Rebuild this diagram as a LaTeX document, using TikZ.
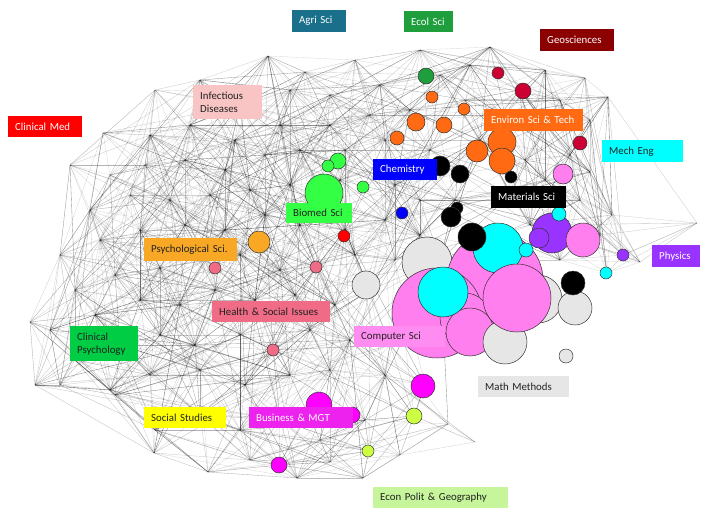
\documentclass[tikz,border=0pt]{standalone}
\usepackage{fontspec}
\usepackage{xcolor}
\setmainfont{Carlito}

\definecolor{agric}{HTML}{1A6F8A}
\definecolor{ecolc}{HTML}{1F9E3E}
\definecolor{geolab}{HTML}{8B0000}
\definecolor{geoc}{HTML}{CC0033}
\definecolor{cmedc}{HTML}{FF0000}
\definecolor{infc}{HTML}{F9C4C4}
\definecolor{envc}{HTML}{FF6A13}
\definecolor{cyanc}{HTML}{00FFFF}
\definecolor{chemc}{HTML}{0000FF}
\definecolor{biomc}{HTML}{33FF44}
\definecolor{psyc}{HTML}{F9A825}
\definecolor{physc}{HTML}{9933FF}
\definecolor{healc}{HTML}{F06B86}
\definecolor{cpsyc}{HTML}{00CC44}
\definecolor{compc}{HTML}{FF7FEF}
\definecolor{complab}{HTML}{FF8CF0}
\definecolor{mathc}{HTML}{E6E6E6}
\definecolor{socc}{HTML}{FFFF00}
\definecolor{busc}{HTML}{FF00FF}
\definecolor{buslab}{HTML}{EE22EE}
\definecolor{econlab}{HTML}{C6F59B}
\definecolor{econc}{HTML}{CCFF44}
\definecolor{darktext}{HTML}{222222}

\newcommand\labfont{\fontsize{10.8}{13}\selectfont}

\begin{document}
\begin{tikzpicture}[x=1pt,y=-1pt,
    mesh/.style={draw=black, line width=0.35pt},
    bub/.style={circle, draw=black!80, line width=0.5pt, inner sep=0pt},
    lab/.style={anchor=north west, inner xsep=7pt, inner ysep=1pt, align=left, font=\labfont, text=darktext}]
\useasboundingbox (0,0) rectangle (709,512);

% network hubs
\foreach \x/\y [count=\i] in {30/322, 35/385, 70/165, 103/133, 155/90, 200/80, 268/56, 305/72,
    355/60, 420/50, 490/47, 545/70, 585/78, 608/97, 590/172, 612/215, 697/223, 640/262,
    115/395, 154/453, 208/472, 297/478, 363/478, 448/424, 475/442,
    240/105, 330/95, 380/85, 440/75, 520/90, 560/100, 290/90, 470/65,
    150/135, 190/125, 235/140, 280/125, 330/125, 370/115, 410/110, 465/100, 545/125, 590/120, 505/115,
    110/175, 145/165, 185/160, 225/170, 265/155, 300/150, 345/150, 385/140, 430/150, 480/140, 570/155, 525/160,
    90/210, 130/195, 170/200, 210/195, 250/190, 290/185, 340/180, 395/185, 420/200, 455/200, 510/195, 545/180, 580/200,
    60/255, 100/240, 140/230, 185/225, 225/230, 265/215, 300/225, 345/230, 385/220, 420/235, 530/225, 600/235, 623/255,
    75/290, 115/275, 160/268, 205/260, 240/255, 280/270, 316/267, 355/255, 395/260, 440/260, 560/260, 607/273,
    50/330, 95/315, 140/300, 180/305, 215/290, 255/300, 295/295, 335/305, 370/290,
    75/360, 120/345, 160/335, 195/345, 240/335, 273/350, 310/330, 350/340, 390/345,
    60/385, 110/390, 150/375, 200/370, 245/385, 290/375, 330/370, 385/375, 425/385,
    155/430, 200/415, 240/430, 280/420, 320/440, 365/420, 414/416,
    250/460, 279/465, 330/462, 369/451, 400/455}{
  \coordinate (m\i) at (\x,\y);
  \expandafter\xdef\csname mx\i\endcsname{\x}
  \expandafter\xdef\csname my\i\endcsname{\y}
  \xdef\nm{\i}
}
\pgfmathsetseed{11}
\foreach \i in {1,...,\nm}{
  \foreach \j in {\i,...,\nm}{
    \edef\dd{\the\numexpr
      (\csname mx\i\endcsname-\csname mx\j\endcsname)*(\csname mx\i\endcsname-\csname mx\j\endcsname)
      +(\csname my\i\endcsname-\csname my\j\endcsname)*(\csname my\i\endcsname-\csname my\j\endcsname)\relax}
    \ifnum\dd>0
      \ifnum\dd<32000
        \pgfmathsetmacro\rr{rnd}
        \pgfmathsetmacro\oo{0.14+0.5*rnd*rnd}
        \ifnum\dd<12000
          \ifdim\rr pt<0.88pt \draw[mesh, draw opacity=\oo] (m\i) -- (m\j); \fi
        \else
          \ifdim\rr pt<0.28pt \draw[mesh, draw opacity=\oo] (m\i) -- (m\j); \fi
        \fi
      \fi
    \fi
  }
}

% journal bubbles
\foreach \x/\y/\r/\col [count=\k] in {426/76/8/ecolc, 498/73/6/geoc, 523/91/8/geoc, 580/143/7/geoc,
    432/97/6/envc, 464/109/6/envc, 416/122/9/envc, 444/125/8/envc, 397/138/7/envc,
    502/142/14/envc, 477/151/11/envc, 502/161/13/envc,
    440/166/10/black, 460/174/9/black, 511/177/6/black, 563/174/10/compc,
    338/161/8/biomc, 328/166/6/biomc, 324/193/19/biomc, 363/187/6/biomc,
    402/213/6/chemc, 344/236/6/cmedc, 259/242/11/psyc, 457/208/6/black, 451/217/10/black,
    215/268/6/healc, 316/267/6/healc, 273/350/6/healc, 366/285/14/mathc,
    538/299/24/mathc, 575/308/17/mathc, 573/283/12/black, 427/262/25/mathc,
    495/280/48/compc, 437/313/45/compc, 465/318/25/compc, 470/332/24/compc,
    505/342/22/mathc, 566/356/7/mathc, 498/248/25/cyanc, 472/237/14/black,
    526/250/7/cyanc, 443/292/25/cyanc, 517/298/34/compc,
    552/233/20/physc, 539/238/10/physc, 559/214/7/cyanc, 583/240/17/compc,
    623/255/6/physc, 606/273/6/cyanc,
    319/405/13/busc, 352/415/8/busc, 279/465/8/busc, 423/386/12/busc,
    414/416/8/econc, 368/451/6/econc}{
  \node[bub, fill=\col, minimum size={\r*2pt}] (b\k) at (\x,\y) {};
}

% field labels
\node[lab, fill=agric, text=white, text width=40pt, minimum height=22pt] (agri) at (292,10) {Agri Sci};
\node[lab, fill=ecolc, text=white, text width=35pt, minimum height=21pt] (ecol) at (404,11) {Ecol Sci};
\node[lab, fill=geolab, text=white, text width=60pt, minimum height=22pt] (geo) at (540,29) {Geosciences};
\node[lab, fill=cmedc, text=white, text width=60pt, minimum height=21pt] (cmed) at (8,116) {Clinical Med};
\node[lab, fill=infc, text width=55pt, minimum height=34pt] (infect) at (193,85) {Infectious\\Diseases};
\node[lab, fill=envc, text=white, text width=85pt, minimum height=22pt] (envir) at (484,109) {Environ Sci \& Tech};
\node[lab, fill=cyanc, text width=67pt, minimum height=22pt] (mech) at (602,140) {Mech Eng};
\node[lab, fill=chemc, text=white, text width=50pt, minimum height=21pt] (chem) at (373,159) {Chemistry};
\node[lab, fill=black, text=white, text width=61pt, minimum height=22pt] (matsci) at (491,186) {Materials Sci};
\node[lab, fill=biomc, text width=52pt, minimum height=20pt] (biomed) at (286,203) {Biomed Sci};
\node[lab, fill=psyc, text width=79pt, minimum height=23pt] (psych) at (144,238) {Psychological Sci.};
\node[lab, fill=physc, text=white, text width=34pt, minimum height=22pt] (phys) at (652,245) {Physics};
\node[lab, fill=healc, text width=104pt, minimum height=21pt] (health) at (212,301) {Health \& Social Issues};
\node[lab, fill=cpsyc, text width=54pt, minimum height=35pt] (cpsych) at (70,326) {Clinical\\Psychology};
\node[lab, fill=complab, text width=77pt, minimum height=21pt] (compsci) at (354,326) {Computer Sci};
\node[lab, fill=mathc, text width=77pt, minimum height=21pt] (math) at (478,376) {Math Methods};
\node[lab, fill=socc, text width=68pt, minimum height=21pt] (social) at (144,407) {Social Studies};
\node[lab, fill=buslab, text=white, text width=90pt, minimum height=21pt] (business) at (249,407) {Business \& MGT};
\node[lab, fill=econlab, text width=121pt, minimum height=21pt] (econ) at (373,487) {Econ Polit \& Geography};
\end{tikzpicture}
\end{document}
